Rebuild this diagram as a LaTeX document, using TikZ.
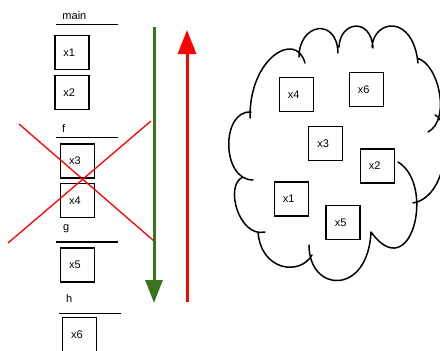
\documentclass[tikz,border=0pt]{standalone}
\usepackage{fontspec}
\setmainfont{Liberation Sans}
\usetikzlibrary{arrows.meta}
\definecolor{darkgreen}{RGB}{56,118,29}
\newcommand{\bxl}[1]{#1\kern5pt}
\tikzset{
  varbox/.style={draw=black, line width=1.5pt, minimum width=34pt, minimum height=34pt, inner sep=0pt, font=\fontsize{11}{13}\selectfont},
  framelabel/.style={anchor=base west, inner sep=0pt, font=\fontsize{11}{13}\selectfont},
  sepline/.style={line width=1.4pt},
  crossline/.style={red, line width=1.3pt},
  cloudline/.style={line width=1.5pt, line cap=round},
  stackarrow/.style={line width=3pt}
}
\begin{document}
\begin{tikzpicture}[x=1pt,y=-1pt]
\useasboundingbox (0,0) rectangle (440,351);

% stack frames
\node[framelabel] (lmain) at (62.3,19.3) {main};
\draw[sepline] (56,24.7) -- (118,24.7);
\node[varbox] (m1) at (71.8,52.5) {\bxl{x1}};
\node[varbox] (m2) at (71.8,92.7) {\bxl{x2}};

\node[framelabel] (lf) at (62,132.3) {f};
\draw[sepline] (56,137.7) -- (118,137.7);
\node[varbox] (f3) at (77.5,161) {\bxl{x3}};
\node[varbox] (f4) at (77.5,200.5) {\bxl{x4}};

\node[framelabel] (lg) at (63,230.5) {g};
\draw[sepline] (56,242) -- (118,242);
\node[varbox] (g5) at (77.5,265.2) {\bxl{x5}};

\node[framelabel] (lh) at (66,302) {h};
\draw[sepline] (58.7,313.3) -- (121,313.3);
\node[varbox] (h6) at (79.5,334.5) {\bxl{x6}};

% red cross over frame f
\coordinate (xa1) at (19,124);
\coordinate (xa2) at (154,241);
\coordinate (xb1) at (151,121);
\coordinate (xb2) at (8,243);
\draw[crossline] (xa1) -- (xa2);
\draw[crossline] (xb1) -- (xb2);

% arrows
\coordinate (gtop) at (154,27);
\coordinate (gbot) at (154,303);
\draw[stackarrow, darkgreen, -{Triangle[length=23pt,width=17pt]}] (gtop) -- (gbot);
\coordinate (rbot) at (187,302);
\coordinate (rtop) at (187,30);
\draw[stackarrow, red, -{Triangle[length=24pt,width=18pt]}] (rbot) -- (rtop);

% cloud (heap)
\draw[cloudline]
  (250,118) .. controls (249,58) and (296,30) .. (305,63)
  (299,57) .. controls (299,23) and (337,17) .. (338,53)
  (339,47) .. controls (340,21) and (371,17) .. (373,48)
  (372,47) .. controls (374,19) and (413,14) .. (418,63)
  (417,58) .. controls (439,64) and (451,120) .. (428,132)
  (435,115) .. controls (451,120) and (451,196) .. (413,203)
  (398,162) .. controls (436,185) and (411,287) .. (371,232)
  (371,232) .. controls (368,296) and (309,293) .. (309,245)
  (312,255) .. controls (300,276) and (261,271) .. (258,232)
  (265,232) .. controls (239,238) and (224,185) .. (243,177)
  (253,180) .. controls (221,180) and (221,110) .. (251,112);

\node[varbox] (c4) at (296.3,94.5) {\bxl{x4}};
\node[varbox] (c6) at (366.3,89.7) {\bxl{x6}};
\node[varbox] (c3) at (325.7,143.3) {\bxl{x3}};
\node[varbox] (c2) at (377.3,166) {\bxl{x2}};
\node[varbox] (c1) at (291.3,198.8) {\bxl{x1}};
\node[varbox] (c5) at (343.2,222.7) {\bxl{x5}};
\end{tikzpicture}
\end{document}
